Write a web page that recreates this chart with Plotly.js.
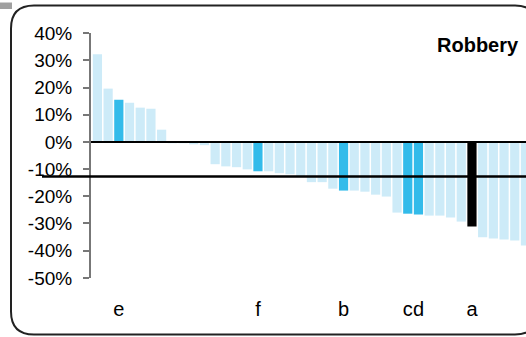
<!DOCTYPE html>
<html>
<head>
<meta charset="utf-8">
<script src="https://cdn.plot.ly/plotly-3.0.1.min.js"></script>
<style>
  html, body { margin: 0; padding: 0; background: #fff; }
  #chart { width: 526px; height: 337px; }
</style>
</head>
<body>
<div id="chart"></div>
<script>
// ---- data ----
const values = [32.2, 19.6, 15.5, 14.4, 12.6, 12.2, 4.5, -0.5, -0.5, -0.9,
                -1.2, -8.2, -9.0, -9.3, -10.1, -10.8, -10.8, -11.5, -11.9, -12.5,
                -14.8, -14.8, -17.2, -17.9, -17.9, -18.3, -19.4, -20.1, -26.0, -26.4,
                -26.7, -27.1, -27.1, -27.8, -29.3, -31.1, -35.1, -35.5, -35.9, -36.3,
                -38.1];
const labels = ['', '', 'e', '', '', '', '', '', '', '',
                '', '', '', '', '', 'f', '', '', '', '',
                '', '', '', 'b', '', '', '', '', '', 'c',
                'd', '', '', '', '', 'a', '', '', '', '',
                ''];
const focusLabel = 'a';
const averageValue = -12.7;
const yTickVals = [-50, -40, -30, -20, -10, 0, 10, 20, 30, 40];
const yTickText = yTickVals.map(v => v + '%');
const chartTitle = 'Robbery';

// ---- styling ----
const LIGHT = '#cdebf8';
const BRIGHT = '#33bbea';
const FOCUS = '#000000';
const FONT = 'Liberation Sans';

const x = values.map((_, i) => i);
const colors = labels.map(l => l === focusLabel ? FOCUS : (l ? BRIGHT : LIGHT));
const xTickVals = [];
const xTickText = [];
labels.forEach((l, i) => { if (l) { xTickVals.push(i); xTickText.push(l); } });

const W = 526, H = 337;
const M = { l: 91, r: 0, t: 33, b: 59 };
const PW = W - M.l - M.r, PH = H - M.t - M.b;
const px = v => (v - M.l) / PW;            // pixel x -> paper x
const py = v => (H - M.b - v) / PH;        // pixel y -> paper y

// rounded frame
const fxL = px(11), fxR = px(538), fyT = py(5.5), fyB = py(334.5);
const rx = 23 / PW, ry = 23 / PH;
const framePath =
  `M ${fxL + rx} ${fyT} L ${fxR - rx} ${fyT} Q ${fxR} ${fyT} ${fxR} ${fyT - ry} ` +
  `L ${fxR} ${fyB + ry} Q ${fxR} ${fyB} ${fxR - rx} ${fyB} ` +
  `L ${fxL + rx} ${fyB} Q ${fxL} ${fyB} ${fxL} ${fyB + ry} ` +
  `L ${fxL} ${fyT - ry} Q ${fxL} ${fyT} ${fxL + rx} ${fyT} Z`;

const trace = {
  type: 'bar',
  x: x,
  y: values,
  marker: { color: colors, line: { width: 0 } },
  hoverinfo: 'skip'
};

const layout = {
  width: W, height: H,
  margin: M,
  paper_bgcolor: '#ffffff',
  plot_bgcolor: 'rgba(0,0,0,0)',
  showlegend: false,
  bargap: 0.14,
  font: { family: FONT, color: '#000' },
  xaxis: {
    range: [-0.6, 40.05],
    tickmode: 'array', tickvals: xTickVals, ticktext: xTickText,
    tickangle: 0,
    ticks: 'outside', ticklen: 13, tickcolor: 'rgba(0,0,0,0)', tickwidth: 0,
    showline: false, showgrid: false, zeroline: false,
    tickfont: { size: 20, color: '#000', family: FONT },
    fixedrange: true
  },
  yaxis: {
    range: [-50.05, 40.05],
    tickmode: 'array', tickvals: yTickVals, ticktext: yTickText,
    ticks: 'outside', ticklen: 6, tickwidth: 2, tickcolor: '#777',
    showline: true, linecolor: '#777', linewidth: 2,
    showgrid: false, zeroline: false,
    tickfont: { size: 19, color: '#000', family: FONT },
    ticklabelstandoff: 7,
    fixedrange: true
  },
  shapes: [
    { type: 'path', xref: 'paper', yref: 'paper', path: framePath,
      line: { color: '#222', width: 2 }, fillcolor: 'rgba(0,0,0,0)', layer: 'above' },
    { type: 'rect', xref: 'paper', yref: 'paper', x0: px(0), x1: px(12), y0: py(9), y1: py(2.5),
      fillcolor: '#a0a0a0', line: { width: 0 }, layer: 'above' },
    { type: 'line', xref: 'paper', yref: 'y', x0: 0, x1: 1, y0: 0, y1: 0,
      line: { color: '#000', width: 2 }, layer: 'above' },
    { type: 'line', xref: 'paper', yref: 'y', x0: px(42), x1: 1, y0: averageValue, y1: averageValue,
      line: { color: '#000', width: 2.5 }, layer: 'above' }
  ],
  annotations: [
    { text: '<b>' + chartTitle + '</b>', xref: 'paper', yref: 'paper',
      x: px(521), y: py(45), xanchor: 'right', yanchor: 'middle', showarrow: false,
      font: { size: 20, color: '#000', family: FONT } }
  ]
};

Plotly.newPlot('chart', [trace], layout, { staticPlot: true, displayModeBar: false });
</script>
</body>
</html>
